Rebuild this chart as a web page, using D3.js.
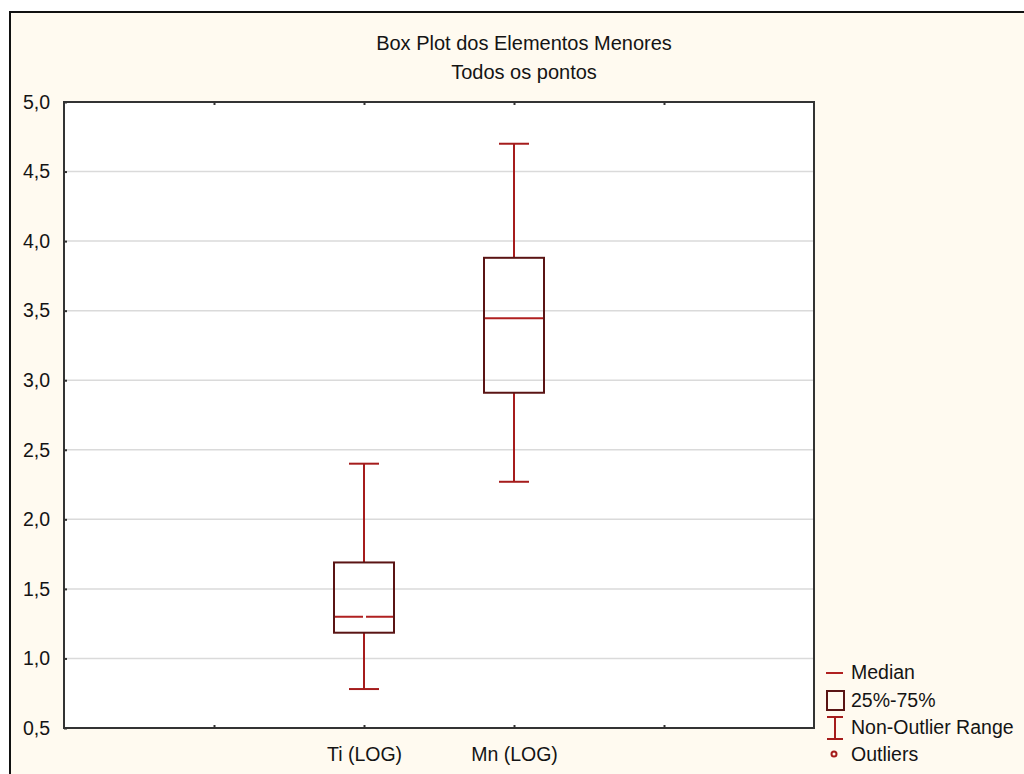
<!DOCTYPE html>
<html>
<head>
<meta charset="utf-8">
<script src="https://cdn.jsdelivr.net/npm/d3@7"></script>
<style>
  body { margin: 0; background: #fff; }
  svg { display: block; font-family: "Liberation Sans", Arial, sans-serif; }
</style>
</head>
<body>
<script>
"use strict";
(function(){
    // values
    const categories = ["Ti (LOG)", "Mn (LOG)"]
    const slots = [2, 3]                 // position of each box on the category axis
    const lowWhisker = [0.78, 2.27]
    const q1 = [1.185, 2.91]
    const medians = [1.30, 3.445]
    const q3 = [1.69, 3.88]
    const highWhisker = [2.40, 4.70]
    const yTicks = [0.5, 1.0, 1.5, 2.0, 2.5, 3.0, 3.5, 4.0, 4.5, 5.0]
    const xTicks = [1, 2, 3, 4]
    const titleLines = ["Box Plot dos Elementos Menores", "Todos os pontos"]
    const legendLabels = ["Median", "25%-75%", "Non-Outlier Range", "Outliers"]

    const measurements = {
        width: 1024,
        height: 774,
        left: 64,
        right: 814,
        top: 102,
        bottom: 728
    }
    const colors = {
        panel: "#fffaf0",
        frame: "#333333",
        grid: "#dadada",
        box: "#5a1414",
        whisker: "#a51c1c",
        median: "#b02020",
        text: "#141414"
    }
    const fontFamily = "'Liberation Sans', Arial, sans-serif"

    const svg = d3.select("body").append("svg")
        .attr("width", measurements.width)
        .attr("height", measurements.height)

    // cream window with a black edge on top and left
    svg.append("rect")
        .attr("x", 10).attr("y", 12)
        .attr("width", measurements.width).attr("height", measurements.height)
        .attr("fill", colors.panel)
        .attr("stroke", "#111").attr("stroke-width", 2)

    const scaleX = d3.scaleLinear()
        .domain([0, 5])
        .range([measurements.left, measurements.right])
    const scaleY = d3.scaleLinear()
        .domain([0.5, 5.0])
        .range([measurements.bottom, measurements.top])

    // plot area
    svg.append("rect")
        .attr("x", measurements.left).attr("y", measurements.top)
        .attr("width", measurements.right - measurements.left)
        .attr("height", measurements.bottom - measurements.top)
        .attr("fill", "#ffffff")

    // grid lines
    svg.append("g").selectAll("line")
        .data(yTicks.slice(1, -1))
        .enter().append("line")
            .attr("x1", measurements.left).attr("x2", measurements.right)
            .attr("y1", d => scaleY(d)).attr("y2", d => scaleY(d))
            .attr("stroke", colors.grid).attr("stroke-width", 1.5)

    // axes
    const fmt = d => d3.format(".1f")(d).replace(".", ",")
    const yAxis = d3.axisLeft(scaleY).tickValues(yTicks).tickFormat(fmt).tickSize(-3).tickPadding(14)
    const gy = svg.append("g")
        .attr("transform", `translate(${measurements.left},0)`)
        .call(yAxis)
    gy.selectAll("text").attr("font-size", 19.5).attr("fill", colors.text)
        .attr("font-family", fontFamily)
    gy.selectAll(".tick line").attr("stroke", colors.frame).attr("stroke-width", 2)
    gy.select(".domain").remove()

    const xAxisBottom = d3.axisBottom(scaleX).tickValues(xTicks)
        .tickFormat(d => {
            const i = slots.indexOf(d)
            return i >= 0 ? categories[i] : ""
        })
        .tickSize(-3).tickPadding(19)
    const gx = svg.append("g")
        .attr("transform", `translate(0,${measurements.bottom})`)
        .call(xAxisBottom)
    gx.selectAll("text").attr("font-size", 19.5).attr("fill", colors.text)
        .attr("font-family", fontFamily)
    gx.selectAll(".tick line").attr("stroke", colors.frame).attr("stroke-width", 2)
    gx.select(".domain").remove()

    const gxTop = svg.append("g")
        .attr("transform", `translate(0,${measurements.top})`)
        .call(d3.axisTop(scaleX).tickValues(xTicks).tickFormat("").tickSize(-3))
    gxTop.selectAll(".tick line").attr("stroke", colors.frame).attr("stroke-width", 2)
    gxTop.select(".domain").remove()

    // frame of plot area
    svg.append("rect")
        .attr("x", measurements.left).attr("y", measurements.top)
        .attr("width", measurements.right - measurements.left)
        .attr("height", measurements.bottom - measurements.top)
        .attr("fill", "none")
        .attr("stroke", colors.frame).attr("stroke-width", 2)

    // boxes
    const boxData = categories.map((c, i) => ({
        slot: slots[i], lo: lowWhisker[i], q1: q1[i], med: medians[i], q3: q3[i], hi: highWhisker[i]
    }))
    const boxW = 60
    const capW = 30
    const boxes = svg.append("g").selectAll("g")
        .data(boxData)
        .enter().append("g")

    boxes.append("line")
        .attr("x1", d => scaleX(d.slot)).attr("x2", d => scaleX(d.slot))
        .attr("y1", d => scaleY(d.hi)).attr("y2", d => scaleY(d.q3))
        .attr("stroke", colors.whisker).attr("stroke-width", 2)
    boxes.append("line")
        .attr("x1", d => scaleX(d.slot)).attr("x2", d => scaleX(d.slot))
        .attr("y1", d => scaleY(d.q1)).attr("y2", d => scaleY(d.lo))
        .attr("stroke", colors.whisker).attr("stroke-width", 2)
    boxes.append("line")
        .attr("x1", d => scaleX(d.slot) - capW / 2).attr("x2", d => scaleX(d.slot) + capW / 2)
        .attr("y1", d => scaleY(d.hi)).attr("y2", d => scaleY(d.hi))
        .attr("stroke", colors.whisker).attr("stroke-width", 2)
    boxes.append("line")
        .attr("x1", d => scaleX(d.slot) - capW / 2).attr("x2", d => scaleX(d.slot) + capW / 2)
        .attr("y1", d => scaleY(d.lo)).attr("y2", d => scaleY(d.lo))
        .attr("stroke", colors.whisker).attr("stroke-width", 2)
    boxes.append("rect")
        .attr("x", d => scaleX(d.slot) - boxW / 2)
        .attr("y", d => scaleY(d.q3))
        .attr("width", boxW)
        .attr("height", d => scaleY(d.q1) - scaleY(d.q3))
        .attr("fill", "none")
        .attr("stroke", colors.box).attr("stroke-width", 2)
    boxes.append("line")
        .attr("x1", d => scaleX(d.slot) - boxW / 2 + 1).attr("x2", d => scaleX(d.slot) + boxW / 2 - 1)
        .attr("y1", d => scaleY(d.med)).attr("y2", d => scaleY(d.med))
        .attr("stroke", colors.median).attr("stroke-width", 2)
        // the Ti median shows a small break in the middle
        .attr("stroke-dasharray", (d, i) => i === 0 ? `${boxW / 2 - 2} 3 ${boxW}` : null)

    // title
    svg.append("g").selectAll("text")
        .data(titleLines)
        .enter().append("text")
            .attr("x", 524)
            .attr("y", (d, i) => 50 + i * 29)
            .attr("text-anchor", "middle")
            .attr("font-size", 20)
            .attr("fill", colors.text)
            .text(d => d)

    // legend
    const legend = svg.append("g").attr("transform", "translate(826,0)")
    const legendY = [673, 701, 728, 755]
    legend.append("line")
        .attr("x1", 0).attr("x2", 17).attr("y1", legendY[0]).attr("y2", legendY[0])
        .attr("stroke", colors.median).attr("stroke-width", 2)
    legend.append("rect")
        .attr("x", 1).attr("y", legendY[1] - 10).attr("width", 17).attr("height", 19)
        .attr("fill", "none").attr("stroke", colors.box).attr("stroke-width", 2)
    legend.append("line")
        .attr("x1", 9).attr("x2", 9).attr("y1", legendY[2] - 11).attr("y2", legendY[2] + 11)
        .attr("stroke", colors.whisker).attr("stroke-width", 2)
    legend.append("line")
        .attr("x1", 1).attr("x2", 17).attr("y1", legendY[2] - 11).attr("y2", legendY[2] - 11)
        .attr("stroke", colors.whisker).attr("stroke-width", 2)
    legend.append("line")
        .attr("x1", 1).attr("x2", 17).attr("y1", legendY[2] + 11).attr("y2", legendY[2] + 11)
        .attr("stroke", colors.whisker).attr("stroke-width", 2)
    legend.append("circle")
        .attr("cx", 8).attr("cy", legendY[3] - 1).attr("r", 2.5)
        .attr("fill", "none").attr("stroke", colors.whisker).attr("stroke-width", 2)
    legend.selectAll("text")
        .data(legendLabels)
        .enter().append("text")
            .attr("x", 25)
            .attr("y", (d, i) => legendY[i] + 6)
            .attr("font-size", 19.5)
            .attr("fill", colors.text)
            .text(d => d)
})()
</script>
</body>
</html>
